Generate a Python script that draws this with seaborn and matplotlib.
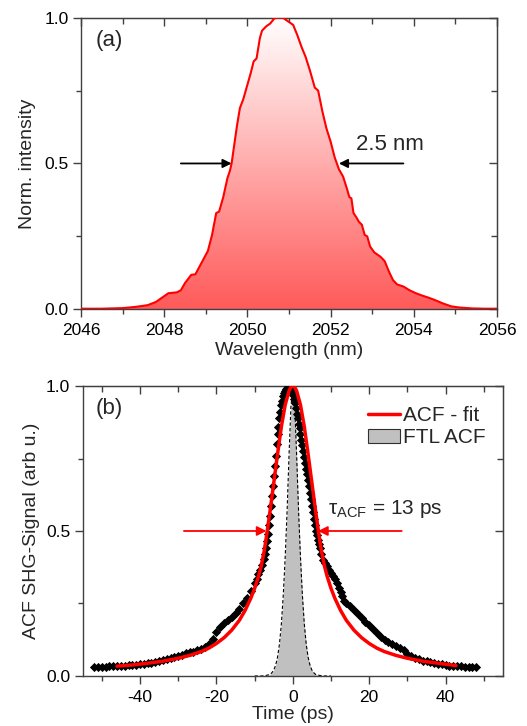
import numpy as np
import pandas as pd
import matplotlib
matplotlib.use("Agg")
import matplotlib.pyplot as plt
import seaborn as sns
from matplotlib.colors import LinearSegmentedColormap
from matplotlib.lines import Line2D
from matplotlib.patches import Patch
from matplotlib.ticker import MultipleLocator, NullFormatter

# ---------------- data: panel (a) spectrum ----------------
wavelength = [2046.0, 2046.5, 2047.0, 2047.3, 2047.6, 2047.8, 2048.0, 2048.1, 2048.3, 2048.4,
              2048.5, 2048.65, 2048.75, 2048.9, 2049.05, 2049.15, 2049.25, 2049.32, 2049.42, 2049.52,
              2049.58, 2049.62, 2049.68, 2049.75, 2049.82, 2049.9, 2050.0, 2050.08, 2050.15, 2050.22,
              2050.3, 2050.35, 2050.45, 2050.55, 2050.65, 2050.75, 2050.85, 2050.95, 2051.1, 2051.2,
              2051.3, 2051.4, 2051.5, 2051.58, 2051.62, 2051.7, 2051.8, 2051.9, 2052.0, 2052.1,
              2052.2, 2052.3, 2052.4, 2052.45, 2052.5, 2052.55, 2052.62, 2052.68, 2052.75, 2052.82,
              2052.88, 2052.95, 2053.05, 2053.2, 2053.3, 2053.4, 2053.5, 2053.6, 2053.75, 2053.9,
              2054.05, 2054.2, 2054.35, 2054.5, 2054.7, 2054.9, 2055.1, 2055.4, 2055.7, 2056.0]
intensity = [0.002, 0.002, 0.004, 0.008, 0.014, 0.025, 0.045, 0.055, 0.058, 0.065,
             0.09, 0.118, 0.12, 0.16, 0.2, 0.255, 0.33, 0.335, 0.385, 0.45,
             0.475, 0.5, 0.56, 0.63, 0.69, 0.72, 0.77, 0.81, 0.85, 0.86,
             0.93, 0.955, 0.97, 0.98, 0.998, 1.0, 1.0, 0.99, 0.975, 0.94,
             0.9, 0.865, 0.82, 0.78, 0.76, 0.75, 0.68, 0.62, 0.575, 0.52,
             0.48, 0.455, 0.41, 0.385, 0.38, 0.33, 0.315, 0.3, 0.29, 0.255,
             0.25, 0.215, 0.195, 0.18, 0.165, 0.13, 0.1, 0.085, 0.078, 0.065,
             0.055, 0.047, 0.04, 0.032, 0.02, 0.01, 0.006, 0.003, 0.002, 0.002]

# ---------------- data: panel (b) autocorrelation ----------------
time_meas = [-52, -51, -50, -49, -48, -47, -46, -45, -44, -43, -42, -41, -40, -39, -38, -37, -36, -35,
             -34, -33, -32, -31, -30, -29, -28, -27, -26, -25, -24, -23, -22, -21, -20, -19, -18, -17,
             -16, -15, -14, -13, -12, -11, -10, -9.5, -9, -8.5, -8, -7.5, -7.25, -7, -6.75, -6.5,
             -6.25, -6, -5.75, -5.5, -5.25, -5, -4.75, -4.5, -4.25, -4, -3.75, -3.5, -3.25, -3,
             -2.75, -2.5, -2.25, -2, -1.75, -1.5, -1.25, -1, -0.75, -0.5, -0.25, 0, 0.25, 0.5,
             0.75, 1, 1.25, 1.5, 1.75, 2, 2.25, 2.5, 2.75, 3, 3.25, 3.5, 3.75, 4, 4.25, 4.5,
             4.75, 5, 5.25, 5.5, 5.75, 6, 6.25, 6.5, 6.75, 7, 7.5, 8, 8.5, 9, 9.5, 10,
             10.5, 11, 11.5, 12, 12.5, 13, 13.5, 14, 15, 16, 17, 18, 19, 20, 21, 22,
             23, 24, 25, 26, 27, 28, 29, 30, 31, 32, 33, 34, 35, 36, 37, 38, 39, 40,
             41, 42, 43, 44, 45, 46, 47, 48]
acf_meas = [0.031, 0.031, 0.032, 0.032, 0.033, 0.033, 0.034, 0.035, 0.036, 0.037, 0.038, 0.039, 0.041, 0.042,
            0.044, 0.046, 0.048, 0.051, 0.054, 0.058, 0.062, 0.066, 0.070, 0.074, 0.078, 0.081, 0.084, 0.088,
            0.094, 0.101, 0.112, 0.128, 0.150, 0.168, 0.182, 0.192, 0.204, 0.218, 0.232, 0.250, 0.268, 0.292,
            0.320, 0.335, 0.350, 0.365, 0.382, 0.405, 0.42, 0.44, 0.465, 0.49, 0.52, 0.55, 0.585, 0.62,
            0.655, 0.69, 0.725, 0.76, 0.80, 0.835, 0.86, 0.89, 0.91, 0.935, 0.95, 0.965, 0.975, 0.982,
            0.99, 0.993, 0.997, 1.0, 0.998, 0.99, 0.98, 0.97, 0.955, 0.94, 0.925, 0.905, 0.89, 0.87,
            0.855, 0.835, 0.815, 0.795, 0.775, 0.755, 0.735, 0.715, 0.695, 0.675, 0.655, 0.63, 0.61, 0.585,
            0.565, 0.54, 0.52, 0.50, 0.485, 0.47, 0.455, 0.44, 0.42, 0.40, 0.39, 0.378, 0.365, 0.355,
            0.345, 0.335, 0.32, 0.305, 0.29, 0.275, 0.26, 0.25, 0.24, 0.228, 0.215, 0.2, 0.187, 0.175,
            0.162, 0.148, 0.135, 0.125, 0.118, 0.112, 0.104, 0.097, 0.088, 0.077, 0.068, 0.062, 0.057, 0.053,
            0.05, 0.047, 0.044, 0.042, 0.04, 0.038, 0.036, 0.035, 0.034, 0.033, 0.032, 0.032, 0.031, 0.031]

time_fit = [-46, -42, -38, -34, -30, -27, -24, -22, -20, -18, -16, -14, -12.5, -11, -10, -9, -8.3, -7.5,
            -6.8, -6, -5, -4, -3, -2, -1, -0.5, 0, 0.5, 1, 2, 3, 4, 5, 6, 6.8, 7.5, 8.3, 9, 10, 11,
            12.5, 14, 16, 18, 20, 22, 24, 27, 30, 34, 38, 42.7]
acf_fit = [0.034, 0.038, 0.044, 0.051, 0.061, 0.071, 0.084, 0.096, 0.112, 0.132, 0.158, 0.192, 0.226,
           0.268, 0.302, 0.343, 0.378, 0.43, 0.49, 0.565, 0.665, 0.765, 0.86, 0.935, 0.983, 0.996, 1.0,
           0.996, 0.983, 0.935, 0.86, 0.765, 0.665, 0.565, 0.49, 0.43, 0.378, 0.343, 0.302, 0.268, 0.226,
           0.192, 0.158, 0.132, 0.112, 0.096, 0.084, 0.071, 0.061, 0.051, 0.044, 0.036]

time_ftl = [-10, -8, -7, -6, -5.5, -5, -4.5, -4, -3.5, -3, -2.5, -2, -1.5, -1, -0.5, 0,
            0.5, 1, 1.5, 2, 2.5, 3, 3.5, 4, 4.5, 5, 5.5, 6, 7, 8, 10]
acf_ftl = [0.0, 0.0, 0.002, 0.005, 0.011, 0.02, 0.037, 0.065, 0.11, 0.18, 0.28, 0.41, 0.57, 0.76, 0.93, 0.99,
           0.93, 0.76, 0.57, 0.41, 0.28, 0.18, 0.11, 0.065, 0.037, 0.02, 0.011, 0.005, 0.002, 0.0, 0.0]

spec = pd.DataFrame({"wl": wavelength, "I": intensity})
meas = pd.DataFrame({"t": time_meas, "s": acf_meas})
fit = pd.DataFrame({"t": time_fit, "s": acf_fit})
ftl = pd.DataFrame({"t": time_ftl, "s": acf_ftl})

# ---------------- style ----------------
sns.set_style("ticks")
plt.rcParams["font.family"] = ["Liberation Sans", "DejaVu Sans"]
plt.rcParams["mathtext.default"] = "regular"
plt.rcParams["axes.unicode_minus"] = False
spine_c = "#404040"

fig = plt.figure(figsize=(5.27, 7.26), dpi=100)
ax1 = fig.add_axes([0.1537, 0.574, 0.7894, 0.4017])
ax2 = fig.add_axes([0.1569, 0.0689, 0.7975, 0.3994])


def style_axes(ax, xmaj, xmin):
    for s in ax.spines.values():
        s.set_visible(True)
        s.set_color(spine_c)
        s.set_linewidth(1.0)
    ax.xaxis.set_major_locator(MultipleLocator(xmaj))
    ax.xaxis.set_minor_locator(MultipleLocator(xmin))
    ax.yaxis.set_major_locator(MultipleLocator(0.5))
    ax.yaxis.set_minor_locator(MultipleLocator(0.25))
    ax.set_ylim(0, 1)
    # bottom / left: outward ticks with labels
    ax.tick_params(which="both", direction="out", color=spine_c, labelsize=12.5,
                   labelcolor="black", width=1.0, top=False, right=False)
    ax.tick_params(which="major", length=6)
    ax.tick_params(which="minor", length=3.5)
    ax.tick_params(axis="x", which="major", pad=4)
    ax.tick_params(axis="y", which="major", pad=3)
    # top / right: inward ticks without labels
    tx = ax.secondary_xaxis("top")
    tx.xaxis.set_major_locator(MultipleLocator(xmaj))
    tx.xaxis.set_minor_locator(MultipleLocator(xmin))
    tx.xaxis.set_major_formatter(NullFormatter())
    tx.tick_params(which="both", direction="in", color=spine_c, width=1.0)
    tx.tick_params(which="major", length=6)
    tx.tick_params(which="minor", length=4)
    tx.spines["top"].set_color(spine_c)
    ty = ax.secondary_yaxis("right")
    ty.yaxis.set_major_locator(MultipleLocator(0.5))
    ty.yaxis.set_minor_locator(MultipleLocator(0.25))
    ty.yaxis.set_major_formatter(NullFormatter())
    ty.tick_params(which="both", direction="in", color=spine_c, width=1.0)
    ty.tick_params(which="major", length=6)
    ty.tick_params(which="minor", length=4)
    ty.spines["right"].set_color(spine_c)


# ---------------- panel (a) ----------------
style_axes(ax1, 2, 1)
poly = ax1.fill_between(spec["wl"], spec["I"], 0, color="none", lw=0)
cmap = LinearSegmentedColormap.from_list("wr", ["#ff5a5a", "#ffffff"])
grad = np.linspace(0, 1, 256).reshape(-1, 1)
im = ax1.imshow(grad, cmap=cmap, origin="lower", extent=[2046, 2056, 0, 1],
                aspect="auto", zorder=1)
im.set_clip_path(poly.get_paths()[0], transform=ax1.transData)
sns.lineplot(data=spec, x="wl", y="I", ax=ax1, color="red", lw=1.5, zorder=3)
ax1.set_xlim(2046, 2056)
ax1.set_ylim(0, 1)
ax1.set_xlabel("Wavelength (nm)", fontsize=14, labelpad=3)
ax1.set_ylabel("Norm. intensity", fontsize=14)
ax1.yaxis.set_label_coords(-0.109, 0.5)

arrow_k = dict(arrowstyle="-|>", mutation_scale=13, lw=1.3, color="black", shrinkA=0, shrinkB=0)
ax1.annotate("", xy=(2049.62, 0.5), xytext=(2048.4, 0.5), arrowprops=arrow_k)
ax1.annotate("", xy=(2052.2, 0.5), xytext=(2053.75, 0.5), arrowprops=arrow_k)
ax1.text(2052.6, 0.565, "2.5 nm", fontsize=16, va="center", ha="left")
ax1.text(2046.35, 0.92, "(a)", fontsize=16, va="center", ha="left")

# ---------------- panel (b) ----------------
style_axes(ax2, 20, 10)
ax2.fill_between(ftl["t"], ftl["s"], 0, color="#c0c0c0", lw=0, zorder=1)
sns.lineplot(data=ftl, x="t", y="s", ax=ax2, color="black", lw=0.8, linestyle=(0, (3, 2)), zorder=2)
sns.scatterplot(data=meas, x="t", y="s", ax=ax2, marker="D", s=22, color="black",
                edgecolor="black", linewidth=0, zorder=3)
sns.lineplot(data=fit, x="t", y="s", ax=ax2, color="red", lw=2.5, zorder=4)
ax2.set_xlim(-55, 55)
ax2.set_ylim(0, 1)
ax2.set_xlabel("Time (ps)", fontsize=14, labelpad=1)
ax2.set_ylabel("ACF SHG-Signal (arb u.)", fontsize=14)
ax2.yaxis.set_label_coords(-0.101, 0.5)

arrow_r = dict(arrowstyle="-|>", mutation_scale=14, lw=1.3, color="red", shrinkA=0, shrinkB=0)
ax2.annotate("", xy=(-6.9, 0.5), xytext=(-28.5, 0.5), arrowprops=arrow_r)
ax2.annotate("", xy=(6.6, 0.5), xytext=(28.5, 0.5), arrowprops=arrow_r)
ax2.text(9.2, 0.575, r"τ$_{ACF}$ = 13 ps", fontsize=15, va="center", ha="left")
ax2.text(-51.7, 0.924, "(b)", fontsize=16, va="center", ha="left")

handles = [Line2D([0], [0], color="red", lw=2.5),
           Patch(facecolor="#c0c0c0", edgecolor="#303030", lw=0.8)]
ax2.legend(handles, ["ACF - fit", "FTL ACF"], loc="upper left", frameon=False, fontsize=15,
           handlelength=1.55, handletextpad=0.15, labelspacing=0.15,
           bbox_to_anchor=(0.679, 0.93), borderaxespad=0, borderpad=0)

fig.savefig("out.png", dpi=100)
